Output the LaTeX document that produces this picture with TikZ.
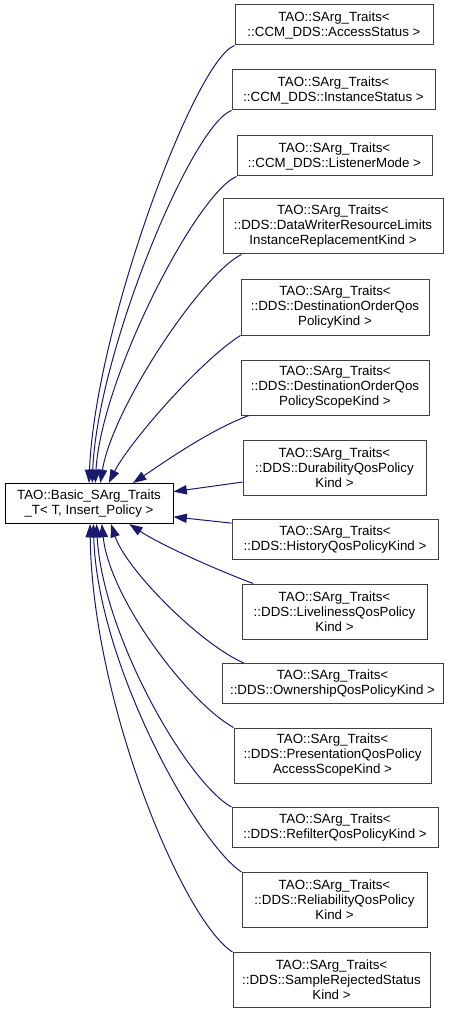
\documentclass[tikz,border=0pt]{standalone}
\usepackage{fontspec}
\setmainfont{Liberation Sans}
\usetikzlibrary{arrows.meta}
\definecolor{edgeblue}{HTML}{191970}
\definecolor{grey25}{HTML}{404040}

\begin{document}
\begin{tikzpicture}[
  x=0.75pt, y=-0.75pt,
  cls/.style={draw=grey25, line width=0.75pt, fill=white, align=center,
    inner xsep=2pt, inner ysep=2pt, minimum width=#1,
    font=\fontsize{10pt}{11.25pt}\selectfont},
  twoline/.style={minimum height=30pt},
  threeline/.style={minimum height=41.25pt},
  inherit/.style={draw=edgeblue, line width=0.75pt,
    -{Triangle[length=10pt,width=7pt]}}
]
  \useasboundingbox (0,0) rectangle (453,1012);
  % base class
  \node [cls=126pt, twoline, draw=black] at (89,503.5) (basic)
    {TAO::Basic\_SArg\_Traits\\\_T< T, Insert\_Policy >};
  % derived classes
  \node [cls=148.5pt, twoline] at (334,25) (accessstatus)
    {TAO::SArg\_Traits<\\::CCM\_DDS::AccessStatus >};
  \node [cls=152.25pt, twoline] at (333.5,90) (instancestatus)
    {TAO::SArg\_Traits<\\::CCM\_DDS::InstanceStatus >};
  \node [cls=146.25pt, twoline] at (334.5,156) (listenermode)
    {TAO::SArg\_Traits<\\::CCM\_DDS::ListenerMode >};
  \node [cls=165pt, threeline] at (333,226.5) (replacement)
    {TAO::SArg\_Traits<\\::DDS::DataWriterResourceLimits\\InstanceReplacementKind >};
  \node [cls=141pt, threeline] at (335,307.5) (destorder)
    {TAO::SArg\_Traits<\\::DDS::DestinationOrderQos\\PolicyKind >};
  \node [cls=141pt, threeline] at (335,387.5) (destscope)
    {TAO::SArg\_Traits<\\::DDS::DestinationOrderQos\\PolicyScopeKind >};
  \node [cls=137.25pt, threeline] at (334.5,467.5) (durability)
    {TAO::SArg\_Traits<\\::DDS::DurabilityQosPolicy\\Kind >};
  \node [cls=154.5pt, twoline] at (335,539.5) (history)
    {TAO::SArg\_Traits<\\::DDS::HistoryQosPolicyKind >};
  \node [cls=138.75pt, threeline] at (334.5,611.5) (liveliness)
    {TAO::SArg\_Traits<\\::DDS::LivelinessQosPolicy\\Kind >};
  \node [cls=165.75pt, twoline] at (332.5,683.5) (ownership)
    {TAO::SArg\_Traits<\\::DDS::OwnershipQosPolicyKind >};
  \node [cls=147.75pt, threeline] at (332.5,755.5) (presentation)
    {TAO::SArg\_Traits<\\::DDS::PresentationQosPolicy\\AccessScopeKind >};
  \node [cls=154.5pt, twoline] at (335,827.5) (refilter)
    {TAO::SArg\_Traits<\\::DDS::RefilterQosPolicyKind >};
  \node [cls=138.75pt, threeline] at (334.5,900) (reliability)
    {TAO::SArg\_Traits<\\::DDS::ReliabilityQosPolicy\\Kind >};
  \node [cls=147.75pt, threeline] at (331.5,980) (samplerejected)
    {TAO::SArg\_Traits<\\::DDS::SampleRejectedStatus\\Kind >};
  % edges into the top of the base
  \draw [inherit] (accessstatus.south west)
    .. controls +(-40,15) and +(6,-154) .. (basic.90);
  \draw [inherit] (instancestatus.south west)
    .. controls +(-40,15) and +(5,-130) .. (basic.81);
  \draw [inherit] (listenermode.south west)
    .. controls +(-40,17) and +(6,-105) .. (basic.73);
  \draw [inherit] (replacement.197)
    .. controls +(-40,20) and +(12,-75) .. (basic.61);
  \draw [inherit] (destorder.south west)
    .. controls +(-40,25) and +(20,-40) .. (basic.46);
  \draw [inherit] (destscope.198)
    .. controls +(-40,15) and +(30,-20) .. (basic.25);
  % edges into the side
  \draw [inherit] (durability.189) -- (basic.8);
  \draw [inherit] (history.171) -- (basic.-9);
  % edges into the bottom
  \draw [inherit] (liveliness.161)
    .. controls +(-40,-15) and +(30,20) .. (basic.-27);
  \draw [inherit] (ownership.167)
    .. controls +(-45,-20) and +(15,45) .. (basic.-43);
  \draw [inherit] (presentation.north west)
    .. controls +(-45,-25) and +(8,75) .. (basic.-58);
  \draw [inherit] (refilter.north west)
    .. controls +(-45,-25) and +(6,110) .. (basic.-70);
  \draw [inherit] (reliability.north west)
    .. controls +(-45,-30) and +(4,140) .. (basic.-78);
  \draw [inherit] (samplerejected.north west)
    .. controls +(-50,-32) and +(2,177) .. (basic.-87);
\end{tikzpicture}
\end{document}
